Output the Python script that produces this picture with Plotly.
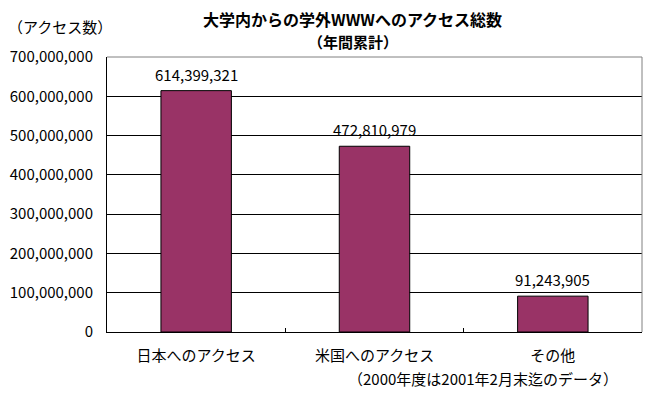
import plotly.graph_objects as go

categories = ["日本へのアクセス", "米国へのアクセス", "その他"]
values = [614399321, 472810979, 91243905]
y_ticks = [0, 100000000, 200000000, 300000000, 400000000, 500000000, 600000000, 700000000]
y_tick_labels = ["0", "100,000,000", "200,000,000", "300,000,000", "400,000,000",
                 "500,000,000", "600,000,000", "700,000,000"]

FONT = "Noto Sans CJK JP"
BAR_COLOR = "#993366"

fig = go.Figure()
fig.add_trace(go.Bar(
    x=categories, y=values,
    marker=dict(color=BAR_COLOR, line=dict(color="black", width=1)),
    hoverinfo="skip",
))

for c, v in zip(categories, values):
    fig.add_annotation(x=c, y=v, text=f"{v:,}", showarrow=False,
                       xref="x", yref="y", yanchor="bottom", yshift=4,
                       font=dict(family=FONT, size=15, color="black"))

# titles and notes (plot area: 107..642 x, 57..332 y)
fig.add_annotation(text="<b>大学内からの学外WWWへのアクセス総数</b>", xref="paper", yref="paper",
                   x=0.4598, y=(332 - 18.5) / 275, xanchor="center", yanchor="middle",
                   showarrow=False, font=dict(family=FONT, size=16, color="black"))
fig.add_annotation(text="<b>（年間累計）</b>", xref="paper", yref="paper",
                   x=0.4598, y=(332 - 41.5) / 275, xanchor="center", yanchor="middle",
                   showarrow=False, font=dict(family=FONT, size=15, color="black"))
fig.add_annotation(text="（アクセス数）", xref="paper", yref="paper",
                   x=-0.0879, y=1.1127, xanchor="center", yanchor="middle", showarrow=False,
                   font=dict(family=FONT, size=15, color="black"))
fig.add_annotation(text="（2000年度は2001年2月末迄のデータ）", xref="paper", yref="paper",
                   x=0.7028, y=-0.1673, xanchor="center", yanchor="middle", showarrow=False,
                   font=dict(family=FONT, size=15, color="black"))

# gray top and right border of plot area
fig.add_shape(type="line", xref="paper", yref="paper", x0=0, x1=1, y0=1, y1=1,
              line=dict(color="#808080", width=1), layer="above")
fig.add_shape(type="line", xref="paper", yref="paper", x0=1, x1=1, y0=0, y1=1,
              line=dict(color="#808080", width=1), layer="above")

fig.update_layout(
    width=649, height=397,
    margin=dict(l=107, r=7, t=57, b=65, autoexpand=False),
    paper_bgcolor="white", plot_bgcolor="white",
    bargap=0.605,
    showlegend=False,
    font=dict(family=FONT, size=15, color="black"),
    xaxis=dict(
        automargin=False,
        showline=True, linecolor="black", linewidth=1,
        ticks="inside", tickson="boundaries", ticklen=4, tickcolor="black",
        showgrid=False, ticklabelstandoff=10,
        tickfont=dict(family=FONT, size=15, color="black"),
    ),
    yaxis=dict(
        automargin=False,
        range=[0, 700000000],
        tickvals=y_ticks, ticktext=y_tick_labels,
        showline=True, linecolor="black", linewidth=1,
        showgrid=True, gridcolor="black", gridwidth=1,
        zeroline=False, ticks="", ticklabelstandoff=10,
        tickfont=dict(family=FONT, size=15, color="black"),
    ),
)

fig.write_html("out.html", config={"displayModeBar": False},
               post_script="document.body.style.margin='0';")
